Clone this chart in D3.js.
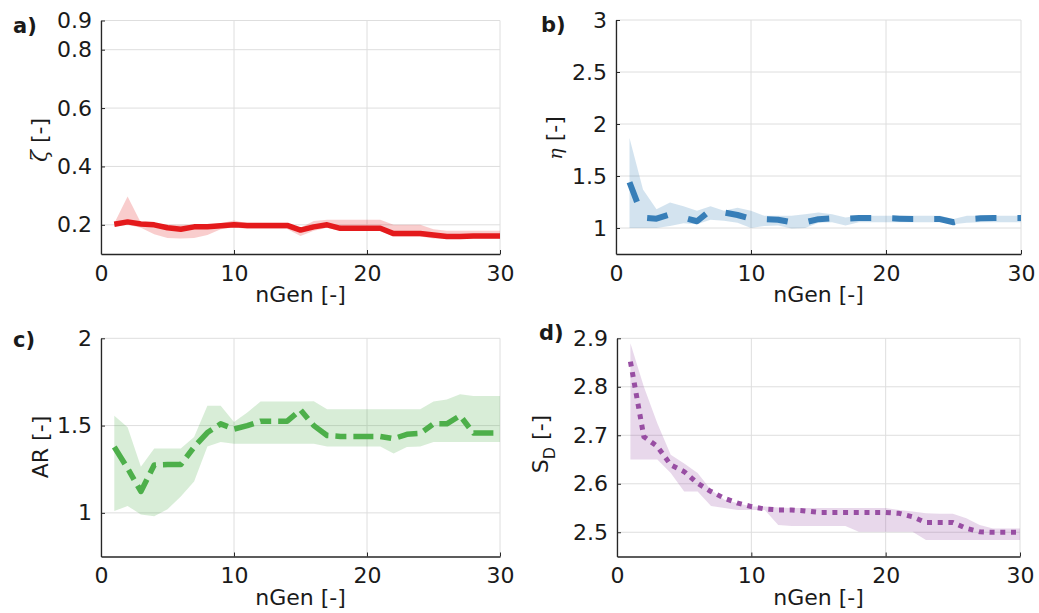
<!DOCTYPE html>
<html>
<head>
<meta charset="utf-8">
<script src="https://cdn.jsdelivr.net/npm/d3@7"></script>
<style>
  body { margin: 0; background: #fff; }
  svg text { font-family: "DejaVu Sans", sans-serif; fill: #1a1a1a; }
</style>
</head>
<body>
<svg id="chart" width="1039" height="613"></svg>
<script>
// generations on the x axis
const nGen = [1, 2, 3, 4, 5, 6, 7, 8, 9, 10, 11, 12, 13, 14, 15,
              16, 17, 18, 19, 20, 21, 22, 23, 24, 25, 26, 27, 28, 29, 30];
const xTicks = [0, 10, 20, 30];

// a) zeta
const zetaMean  = [0.202, 0.21, 0.203, 0.2, 0.19, 0.185, 0.193, 0.193, 0.197, 0.2, 0.198, 0.198, 0.198, 0.198, 0.182,
                   0.193, 0.2, 0.188, 0.188, 0.188, 0.188, 0.17, 0.17, 0.17, 0.165, 0.16, 0.16, 0.162, 0.162, 0.162];
const zetaUpper = [0.205, 0.297, 0.207, 0.203, 0.2, 0.2, 0.2, 0.2, 0.205, 0.215, 0.205, 0.2, 0.2, 0.2, 0.19,
                   0.213, 0.217, 0.217, 0.217, 0.217, 0.217, 0.2, 0.2, 0.2, 0.185, 0.18, 0.18, 0.18, 0.18, 0.18];
const zetaLower = [0.195, 0.2, 0.19, 0.168, 0.155, 0.153, 0.155, 0.165, 0.185, 0.192, 0.186, 0.186, 0.186, 0.186, 0.162,
                   0.18, 0.19, 0.18, 0.18, 0.18, 0.18, 0.16, 0.16, 0.16, 0.153, 0.153, 0.153, 0.153, 0.153, 0.153];
const zetaTicks = [0.2, 0.4, 0.6, 0.8, 0.9];

// b) eta
const etaMean  = [1.44, 1.10, 1.09, 1.13, 1.10, 1.065, 1.17, 1.15, 1.125, 1.09, 1.085, 1.08, 1.055, 1.055, 1.085,
                  1.093, 1.09, 1.095, 1.095, 1.095, 1.09, 1.086, 1.086, 1.086, 1.055, 1.085, 1.093, 1.095, 1.095, 1.095];
const etaUpper = [1.865, 1.37, 1.18, 1.245, 1.21, 1.165, 1.21, 1.165, 1.195, 1.165, 1.117, 1.117, 1.117, 1.133, 1.149,
                  1.133, 1.10, 1.117, 1.117, 1.117, 1.117, 1.117, 1.117, 1.117, 1.086, 1.117, 1.117, 1.117, 1.117, 1.117];
const etaLower = [1.0, 1.0, 1.0, 1.02, 1.045, 1.035, 1.08, 1.07, 1.05, 1.0, 1.02, 1.025, 0.995, 1.0, 1.05,
                  1.055, 1.025, 1.055, 1.055, 1.055, 1.055, 1.055, 1.055, 1.055, 1.035, 1.05, 1.055, 1.055, 1.055, 1.055];
const etaTicks = [1, 1.5, 2, 2.5, 3];

// c) AR
const arMean  = [1.377, 1.255, 1.123, 1.274, 1.277, 1.277, 1.377, 1.46, 1.51, 1.48, 1.50, 1.525, 1.525, 1.525, 1.59,
                 1.50, 1.443, 1.438, 1.438, 1.438, 1.438, 1.425, 1.45, 1.455, 1.51, 1.51, 1.557, 1.457, 1.457, 1.457];
const arUpper = [1.557, 1.49, 1.264, 1.368, 1.368, 1.368, 1.434, 1.613, 1.613, 1.52, 1.575, 1.638, 1.638, 1.638, 1.638,
                 1.64, 1.594, 1.594, 1.594, 1.594, 1.594, 1.594, 1.594, 1.594, 1.638, 1.65, 1.68, 1.67, 1.67, 1.67];
const arLower = [1.01, 1.04, 0.99, 0.98, 1.02, 1.094, 1.18, 1.38, 1.406, 1.396, 1.396, 1.396, 1.396, 1.396, 1.396,
                 1.396, 1.38, 1.38, 1.38, 1.38, 1.38, 1.34, 1.377, 1.38, 1.406, 1.406, 1.406, 1.406, 1.406, 1.406];
const arTicks = [1, 1.5, 2];

// d) S_D
const sdMean  = [2.852, 2.697, 2.677, 2.639, 2.625, 2.601, 2.584, 2.570, 2.56, 2.553, 2.548, 2.546, 2.546, 2.544, 2.541,
                 2.541, 2.541, 2.541, 2.541, 2.541, 2.539, 2.532, 2.52, 2.52, 2.52, 2.508, 2.501, 2.5, 2.5, 2.5];
const sdUpper = [2.89, 2.8, 2.725, 2.66, 2.642, 2.622, 2.587, 2.567, 2.56, 2.553, 2.553, 2.551, 2.55, 2.55, 2.55,
                 2.55, 2.55, 2.55, 2.55, 2.55, 2.546, 2.543, 2.539, 2.538, 2.538, 2.529, 2.515, 2.508, 2.508, 2.508];
const sdLower = [2.65, 2.65, 2.65, 2.622, 2.584, 2.584, 2.554, 2.55, 2.546, 2.546, 2.546, 2.515, 2.513, 2.513, 2.513,
                 2.513, 2.513, 2.501, 2.501, 2.501, 2.501, 2.501, 2.484, 2.484, 2.484, 2.484, 2.484, 2.484, 2.484, 2.484];
const sdTicks = [2.5, 2.6, 2.7, 2.8, 2.9];

const svg = d3.select("#chart");

const panels = [
  { tag: "a)", tagX: 13, tagY: 33, left: 101, right: 500, top: 20.5, bottom: 254,
    yDomain: [0.1, 0.9], yTicks: zetaTicks, mean: zetaMean, upper: zetaUpper, lower: zetaLower,
    color: "#e41a1c", width: 5.5, dash: null, labelX: 47, labelY: 140, label: "zeta" },
  { tag: "b)", tagX: 541, tagY: 32, left: 616, right: 1021, top: 20, bottom: 254,
    yDomain: [0.75, 3], yTicks: etaTicks, mean: etaMean, upper: etaUpper, lower: etaLower,
    color: "#377eb8", width: 6, dash: "21,21", labelX: 562, labelY: 138, label: "eta" },
  { tag: "c)", tagX: 13, tagY: 347, left: 101, right: 500, top: 338.3, bottom: 556.5,
    yDomain: [0.75, 2], yTicks: arTicks, mean: arMean, upper: arUpper, lower: arLower,
    color: "#4daf4a", width: 5.5, dash: "20,7,11,7", labelX: 48, labelY: 447, label: "AR" },
  { tag: "d)", tagX: 539, tagY: 340, left: 617, right: 1020, top: 338.3, bottom: 556.5,
    yDomain: [2.45, 2.9], yTicks: sdTicks, mean: sdMean, upper: sdUpper, lower: sdLower,
    color: "#984ea3", width: 5, dash: "5,5.7", labelX: 548, labelY: 444, label: "SD" },
];

panels.forEach(p => {
  const x = d3.scaleLinear().domain([0, 30]).range([p.left, p.right]);
  const y = d3.scaleLinear().domain(p.yDomain).range([p.bottom, p.top]);
  const g = svg.append("g");

  // grid
  g.selectAll(".gx").data(xTicks).enter().append("line")
    .attr("x1", d => x(d)).attr("x2", d => x(d))
    .attr("y1", p.top).attr("y2", p.bottom)
    .attr("stroke", "#dedede").attr("stroke-width", 1);
  g.selectAll(".gy").data(p.yTicks).enter().append("line")
    .attr("x1", p.left).attr("x2", p.right)
    .attr("y1", d => y(d)).attr("y2", d => y(d))
    .attr("stroke", "#dedede").attr("stroke-width", 1);

  // spread band
  const area = d3.area()
    .x((d, i) => x(nGen[i]))
    .y0((d, i) => y(p.lower[i]))
    .y1((d, i) => y(p.upper[i]));
  g.append("path")
    .datum(p.mean)
    .attr("d", area)
    .attr("fill", p.color)
    .attr("fill-opacity", 0.22);

  // mean line
  const line = d3.line()
    .x((d, i) => x(nGen[i]))
    .y(d => y(d));
  const path = g.append("path")
    .datum(p.mean)
    .attr("d", line)
    .attr("fill", "none")
    .attr("stroke", p.color)
    .attr("stroke-width", p.width)
    .attr("stroke-linejoin", "round");
  if (p.dash) path.attr("stroke-dasharray", p.dash);

  // axes
  const xAxis = g.append("g")
    .attr("transform", `translate(0,${p.bottom})`)
    .call(d3.axisBottom(x).tickValues(xTicks).tickSizeInner(-4).tickSizeOuter(0).tickPadding(11));
  const yAxis = g.append("g")
    .attr("transform", `translate(${p.left},0)`)
    .call(d3.axisLeft(y).tickValues(p.yTicks).tickFormat(d => String(d))
      .tickSizeInner(-4).tickSizeOuter(0).tickPadding(9));
  [xAxis, yAxis].forEach(a => {
    a.select(".domain").attr("stroke", "#262626").attr("stroke-width", 1.3);
    a.selectAll(".tick line").attr("stroke", "#262626");
    a.selectAll("text")
      .style("font-family", "'DejaVu Sans', sans-serif")
      .style("font-size", "22px")
      .attr("fill", "#1a1a1a");
  });

  // x label
  g.append("text")
    .attr("x", (p.left + p.right) / 2)
    .attr("y", p.bottom + 48)
    .attr("text-anchor", "middle")
    .style("font-size", "22px")
    .text("nGen [-]");

  // y label
  const yl = g.append("text")
    .attr("transform", `translate(${p.labelX},${p.labelY}) rotate(-90)`)
    .attr("text-anchor", "middle")
    .style("font-size", "22px");
  if (p.label === "zeta") {
    yl.append("tspan").style("font-family", "'DejaVu Serif', serif").style("font-style", "italic").text("ζ");
    yl.append("tspan").text(" [-]");
  } else if (p.label === "eta") {
    yl.append("tspan").style("font-family", "'DejaVu Serif', serif").style("font-style", "italic")
      .style("font-size", "19px").text("η");
    yl.append("tspan").text(" [-]");
  } else if (p.label === "SD") {
    yl.append("tspan").text("S");
    yl.append("tspan").attr("dy", 7).style("font-size", "16px").text("D");
    yl.append("tspan").attr("dy", -7).text(" [-]");
  } else {
    yl.text("AR [-]");
  }

  // panel tag
  g.append("text")
    .attr("x", p.tagX)
    .attr("y", p.tagY)
    .style("font-size", "21px")
    .style("font-weight", "bold")
    .text(p.tag);
});
</script>
</body>
</html>
